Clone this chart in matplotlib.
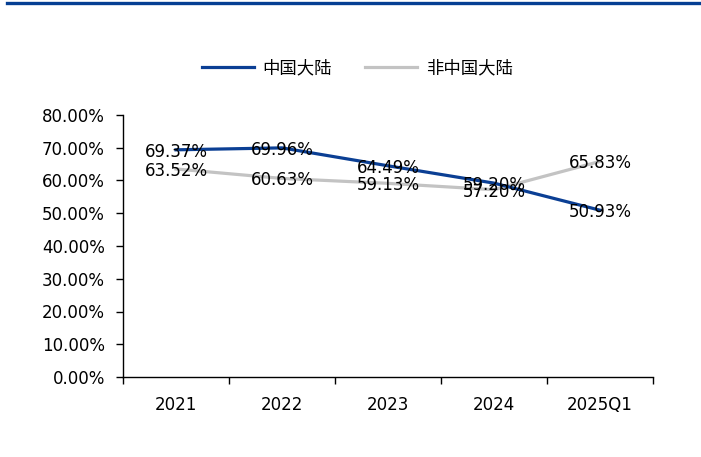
import matplotlib
matplotlib.use('Agg')
import matplotlib.pyplot as plt
from matplotlib.ticker import FixedLocator, NullFormatter
import numpy as np

plt.rcParams['font.family'] = ['DejaVu Sans', 'Noto Sans CJK SC']

categories = ['2021', '2022', '2023', '2024', '2025Q1']
mainland = [69.37, 69.96, 64.49, 59.20, 50.93]
non_mainland = [63.52, 60.63, 59.13, 57.20, 65.83]
series_names = ['中国大陆', '非中国大陆']

blue = '#0b3f94'
grey = '#c3c3c3'

fig = plt.figure(figsize=(7.01, 4.57), dpi=100)

# top banner line
fig.add_artist(plt.Line2D([7/701, 1.0], [1 - 2.5/457, 1 - 2.5/457], color='#053f93', linewidth=2.4))

ax = fig.add_axes([123/701, 1 - 377/457, 530/701, 262/457])

x = np.arange(len(categories))
ax.plot(x, mainland, color=blue, linewidth=2.3, label=series_names[0], zorder=3)
ax.plot(x, non_mainland, color=grey, linewidth=2.3, label=series_names[1], zorder=2)

for xi, v in zip(x, mainland):
    ax.text(xi, v, f'{v:.2f}%', ha='center', va='center_baseline', fontsize=12, color='black', zorder=4)
for xi, v in zip(x, non_mainland):
    ax.text(xi, v, f'{v:.2f}%', ha='center', va='center_baseline', fontsize=12, color='black', zorder=4)

ax.set_xlim(-0.5, len(categories) - 0.5)
ax.set_ylim(0, 80)
ax.set_yticks(np.arange(0, 81, 10))
ax.set_yticklabels([f'{v:.2f}%' for v in np.arange(0, 81, 10)], fontsize=12)

ax.set_xticks(x)
ax.set_xticklabels(categories, fontsize=12)
ax.xaxis.set_minor_locator(FixedLocator(np.arange(-0.5, len(categories), 1.0)))
ax.xaxis.set_minor_formatter(NullFormatter())
ax.tick_params(axis='x', which='major', length=0, pad=14)
ax.tick_params(axis='x', which='minor', length=5, width=1, direction='out')
ax.tick_params(axis='y', length=5, width=1, direction='out', pad=8)

for s in ['top', 'right']:
    ax.spines[s].set_visible(False)
for s in ['left', 'bottom']:
    ax.spines[s].set_linewidth(1)
    ax.spines[s].set_color('black')

leg = fig.legend(loc='center', bbox_to_anchor=(357/701, 1 - 68/457), ncol=2, frameon=False,
                 prop={'family': ['Noto Sans CJK SC'], 'size': 12.5},
                 handlelength=3.0, columnspacing=1.9, handletextpad=0.5)

plt.savefig('out.png', dpi=100)
plt.close()
